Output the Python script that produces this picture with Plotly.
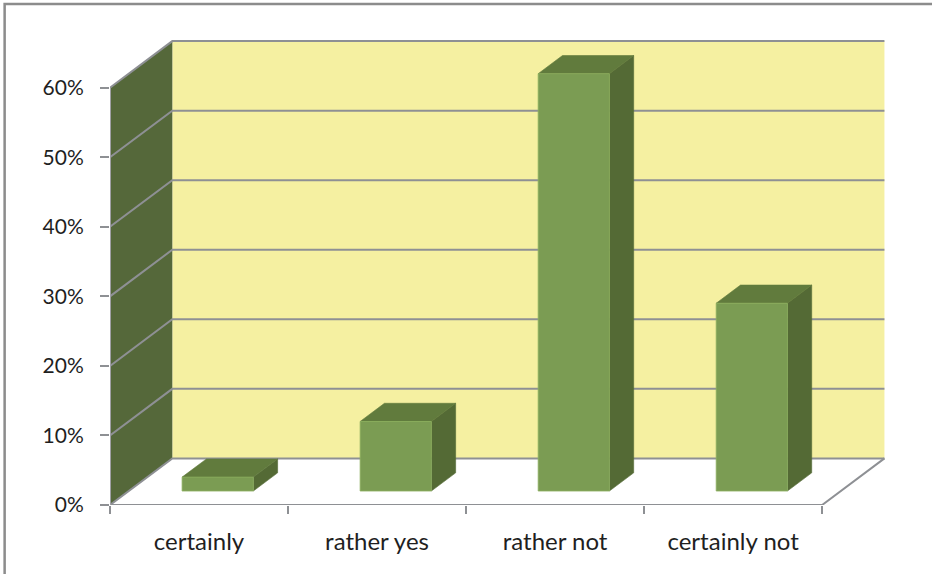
import plotly.graph_objects as go

# ---- data ----
categories = ["certainly", "rather yes", "rather not", "certainly not"]
values = [2, 10, 60, 27]
y_ticks = [0, 10, 20, 30, 40, 50, 60]
y_tick_labels = [f"{v}%" for v in y_ticks]

# ---- style / projection ----
DX = 0.35   # depth offset in category units
DY = 6.7    # depth offset in % units
D0, D1 = 0.30, 0.69   # bar depth span (fraction of depth)
G0, G1 = 0.30, 0.70   # bar width span within category
YMAX = max(y_ticks)
N = len(categories)

WALL = "#F5F0A1"
SIDEWALL = "#55683A"
GRID = "#8E9094"
FRONT = "#7B9C53"
SIDE = "#546A35"
TOP = "#617B3D"
YFONT = dict(family="Lato, Liberation Sans, sans-serif", size=21, color="#1F1F1F")
XFONT = dict(family="Lato, Liberation Sans, sans-serif", size=24, color="#1F1F1F")

fig = go.Figure()

def poly(xs, ys, color, lw=0, lc=None):
    fig.add_trace(go.Scatter(x=xs + [xs[0]], y=ys + [ys[0]], mode="lines",
                             fill="toself", fillcolor=color,
                             line=dict(width=lw, color=lc or color),
                             hoverinfo="skip", showlegend=False))

def line(xs, ys, color=GRID, w=2):
    fig.add_trace(go.Scatter(x=xs, y=ys, mode="lines", line=dict(color=color, width=w),
                             hoverinfo="skip", showlegend=False))

# back wall
poly([DX, N + DX, N + DX, DX], [DY, DY, YMAX + DY, YMAX + DY], WALL)
# side wall
poly([0, DX, DX, 0], [0, DY, YMAX + DY, YMAX], SIDEWALL)
# gridlines
for v in y_ticks:
    line([0, DX, N + DX], [v, v + DY, v + DY])
# floor edges
line([0, N, N + DX], [0, 0, DY])
# front vertical axis line
line([0, 0], [0, YMAX], color="#A0A0A4")

# bars
for i, v in enumerate(values):
    xa, xb = i + G0, i + G1
    fx0, fx1 = xa + D0 * DX, xb + D0 * DX
    bx0, bx1 = xa + D1 * DX, xb + D1 * DX
    fy0, fy1 = D0 * DY, v + D0 * DY
    by0, by1 = D1 * DY, v + D1 * DY
    # right side
    poly([fx1, bx1, bx1, fx1], [fy0, by0, by1, fy1], SIDE, 0.6, SIDE)
    # top
    poly([fx0, fx1, bx1, bx0], [fy1, fy1, by1, by1], TOP, 0.6, TOP)
    # front
    poly([fx0, fx1, fx1, fx0], [fy0, fy0, fy1, fy1], FRONT, 0.8, "#8DB060")

xr = [0, N + DX + 0.02]
yr = [0, YMAX + DY + 0.3]

fig.update_layout(
    width=932, height=574,
    margin=dict(l=110, r=44, t=39, b=69),
    paper_bgcolor="white", plot_bgcolor="white",
    showlegend=False,
    xaxis=dict(range=xr, tickvals=list(range(N + 1)), ticktext=[""] * (N + 1),
               ticks="outside", ticklen=8, tickwidth=2, tickcolor=GRID,
               showgrid=False, zeroline=False, showline=False, fixedrange=True),
    xaxis2=dict(range=xr, overlaying="x", side="bottom",
                tickvals=[i + 0.5 for i in range(N)], ticktext=categories,
                ticks="", tickfont=XFONT, ticklabelstandoff=20,
                showgrid=False, zeroline=False, showline=False, fixedrange=True),
    yaxis=dict(range=yr, tickvals=y_ticks, ticktext=y_tick_labels,
               ticks="outside", ticklen=9, tickwidth=2, tickcolor=GRID,
               tickfont=YFONT, ticklabelstandoff=12,
               showgrid=False, zeroline=False, showline=False, fixedrange=True),
    shapes=[dict(type="rect", xref="paper", yref="paper",
                 x0=(4.5 - 110) / 779, x1=1.5, y0=-0.5, y1=(505 - 4) / 466,
                 line=dict(color="#8C8C8C", width=2.5), fillcolor="rgba(0,0,0,0)")],
)
# dummy trace to activate xaxis2
fig.add_trace(go.Scatter(x=[0], y=[0], xaxis="x2", mode="markers",
                         marker=dict(opacity=0), hoverinfo="skip", showlegend=False))

fig.write_html("out.html")
